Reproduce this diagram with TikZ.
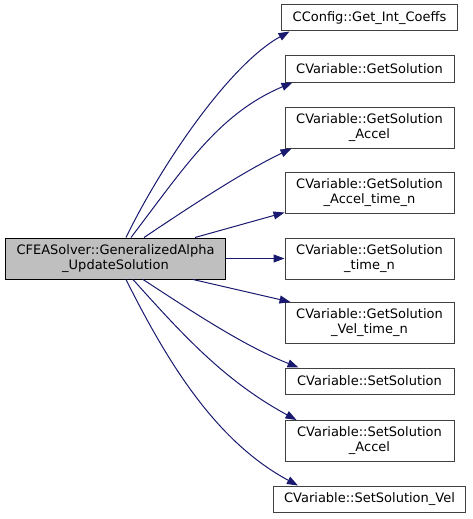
\documentclass[tikz,border=0pt]{standalone}
\usepackage{fontspec}
\setmainfont{DejaVu Sans}
\usetikzlibrary{arrows.meta}
\definecolor{bleunuit}{HTML}{191970}
\definecolor{grisracine}{HTML}{BFBFBF}
\begin{document}
\begin{tikzpicture}[x=1pt,y=-1pt]
	% Styles
	\tikzstyle{lien}=[bleunuit,line width=1pt,-{Triangle[length=11pt,width=8pt]}]
	\tikzstyle{fonction}=[draw=black!75,fill=white,line width=1pt,align=center,font=\fontsize{13}{15}\selectfont,inner xsep=10.7pt,inner ysep=0pt,minimum width=169pt,minimum height=26pt]
	\tikzstyle{deuxlignes}=[minimum height=41pt]
	\tikzstyle{racine}=[fonction,draw=black,fill=grisracine]
	% Dimensions
	\def\ColonneA{115.5}
	\def\ColonneB{369.5}
	\useasboundingbox (0,0) rectangle (472,519);
	% Noeuds
	\node[racine,deuxlignes] (R) at (\ColonneA,258.5) {CFEASolver::GeneralizedAlpha\\\_UpdateSolution};
	\node[fonction] (F1) at (\ColonneB,18) {CConfig::Get\_Int\_Coeffs};
	\node[fonction] (F2) at (\ColonneB,69) {CVariable::GetSolution};
	\node[fonction,deuxlignes] (F3) at (\ColonneB,127.5) {CVariable::GetSolution\\\_Accel};
	\node[fonction,deuxlignes] (F4) at (\ColonneB,192.5) {CVariable::GetSolution\\\_Accel\_time\_n};
	\node[fonction,deuxlignes] (F5) at (\ColonneB,258.5) {CVariable::GetSolution\\\_time\_n};
	\node[fonction,deuxlignes] (F6) at (\ColonneB,323) {CVariable::GetSolution\\\_Vel\_time\_n};
	\node[fonction] (F7) at (\ColonneB,381) {CVariable::SetSolution};
	\node[fonction,deuxlignes] (F8) at (\ColonneB,441) {CVariable::SetSolution\\\_Accel};
	\node[fonction] (F9) at (\ColonneB,499) {CVariable::SetSolution\_Vel};
	% Arcs
	\draw[lien] ([xshift=10.5pt]R.north) .. controls +(35,-72) and +(-61,34) .. ([xshift=8pt]F1.south west);
	\draw[lien] ([xshift=15.5pt]R.north) .. controls +(54.5,-71.6) and +(-73.6,31.2) .. ([xshift=8pt]F2.south west);
	\draw[lien] ([xshift=28.5pt]R.north) .. controls +(45.7,-30.6) and +(-49.5,23.7) .. ([xshift=7pt]F3.south west);
	\draw[lien] ([xshift=79.5pt]R.north) -- ([yshift=1pt]F4.south west);
	\draw[lien] (R.east) -- (F5.west);
	\draw[lien] ([xshift=77.5pt]R.south) -- ([xshift=6pt]F6.north west);
	\draw[lien] ([xshift=27.5pt]R.south) .. controls +(50.3,32.7) and +(-55.8,-22.2) .. ([xshift=14pt]F7.north west);
	\draw[lien] ([xshift=17.5pt]R.south) .. controls +(53.4,59.6) and +(-70.2,-38.3) .. ([xshift=12pt]F8.north west);
	\draw[lien] ([xshift=10.5pt]R.south) .. controls +(44.7,89.5) and +(-79.2,-42.7) .. ([xshift=25pt]F9.north west);
\end{tikzpicture}
\end{document}
